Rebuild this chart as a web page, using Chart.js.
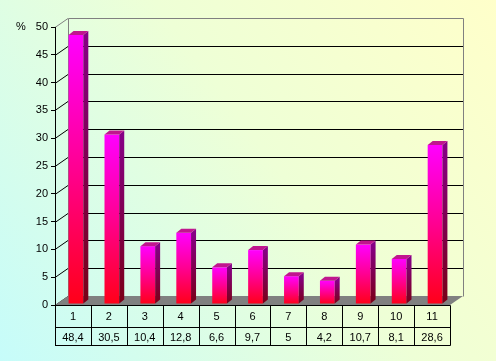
<!DOCTYPE html>
<html>
<head>
<meta charset="utf-8">
<script src="https://cdn.jsdelivr.net/npm/chart.js@4.4.1/dist/chart.umd.min.js"></script>
<style>
    body { margin: 0; overflow: hidden; }
    canvas { display: block; }
</style>
</head>
<body>
<canvas id="bar-3d" width="496" height="361"></canvas>
<script>
var categories = ["1", "2", "3", "4", "5", "6", "7", "8", "9", "10", "11"];
var percents = [48.4, 30.5, 10.4, 12.8, 6.6, 9.7, 5, 4.2, 10.7, 8.1, 28.6];
var yTicks = [0, 5, 10, 15, 20, 25, 30, 35, 40, 45, 50];

(function () {
    "use strict";

    var FONT = "11px Arial, 'Liberation Sans', sans-serif";
    var DX = 13, DY = -9;          // depth of the back wall
    var BX = 5, BY = -4;           // depth of each bar

    // Background, back wall and floor
    var wallPlugin = {
        id: "wall",
        beforeDraw: function (chart) {
            var ctx = chart.ctx, a = chart.chartArea, y = chart.scales.y;
            var W = chart.width, H = chart.height;
            ctx.save();
            var bg = ctx.createLinearGradient(0, H, W, 0);
            bg.addColorStop(0, "#c6fcfa");
            bg.addColorStop(0.55, "#eeffd6");
            bg.addColorStop(1, "#ffffca");
            ctx.fillStyle = bg;
            ctx.fillRect(0, 0, W, H);

            ctx.lineWidth = 1;
            yTicks.forEach(function (v) {
                var py = Math.round(y.getPixelForValue(v)) + 0.5;
                if (v > 0 && v < 50) {
                    ctx.strokeStyle = "#000";
                    ctx.beginPath();
                    ctx.moveTo(a.left + DX, py + DY);
                    ctx.lineTo(a.right + DX, py + DY);
                    ctx.stroke();
                }
                ctx.strokeStyle = v === 50 ? "#808080" : "#000";
                ctx.beginPath();
                ctx.moveTo(a.left, py);
                ctx.lineTo(a.left + DX, py + DY);
                ctx.stroke();
            });

            // wall edges
            var top = Math.round(y.getPixelForValue(50)) + 0.5 + DY;
            var bot = Math.round(y.getPixelForValue(0)) + 0.5 + DY;
            ctx.strokeStyle = "#808080";
            ctx.beginPath();
            ctx.moveTo(a.left + DX + 0.5, bot);
            ctx.lineTo(a.left + DX + 0.5, top);
            ctx.lineTo(a.right + DX + 0.5, top);
            ctx.lineTo(a.right + DX + 0.5, bot);
            ctx.stroke();

            // floor
            var fy = y.getPixelForValue(0);
            ctx.fillStyle = "#808080";
            ctx.beginPath();
            ctx.moveTo(a.left, fy);
            ctx.lineTo(a.right, fy);
            ctx.lineTo(a.right + DX, fy + DY);
            ctx.lineTo(a.left + DX, fy + DY);
            ctx.closePath();
            ctx.fill();

            // percent sign
            ctx.fillStyle = "#000";
            ctx.font = FONT;
            ctx.textAlign = "center";
            ctx.textBaseline = "middle";
            ctx.fillText("%", 21, y.getPixelForValue(50));
            ctx.restore();
        }
    };

    // Side and top faces of the bars
    var bar3dPlugin = {
        id: "bar3d",
        beforeDatasetsDraw: function (chart) {
            chart.ctx.save();
            chart.ctx.translate(3, -1);
        },
        afterDatasetsDraw: function (chart) {
            var ctx = chart.ctx;
            chart.getDatasetMeta(0).data.forEach(function (bar) {
                var l = bar.x - bar.width / 2, r = bar.x + bar.width / 2;
                var side = ctx.createLinearGradient(0, bar.y, 0, bar.base);
                side.addColorStop(0, "#860086");
                side.addColorStop(1, "#7a0016");
                ctx.fillStyle = side;
                ctx.beginPath();
                ctx.moveTo(r, bar.y);
                ctx.lineTo(r + BX, bar.y + BY);
                ctx.lineTo(r + BX, bar.base + BY);
                ctx.lineTo(r, bar.base);
                ctx.closePath();
                ctx.fill();

                ctx.fillStyle = "#c0168e";
                ctx.beginPath();
                ctx.moveTo(l, bar.y);
                ctx.lineTo(l + BX, bar.y + BY);
                ctx.lineTo(r + BX, bar.y + BY);
                ctx.lineTo(r, bar.y);
                ctx.closePath();
                ctx.fill();
            });
            ctx.restore();
        }
    };

    // Data table under the plot
    var tablePlugin = {
        id: "table",
        afterDraw: function (chart) {
            var ctx = chart.ctx, a = chart.chartArea, x = chart.scales.x;
            var colW = (x.right - x.left) / categories.length;
            var y0 = Math.round(a.bottom) + 0.5, y1 = y0 + 22, y2 = y0 + 40;
            ctx.save();
            ctx.strokeStyle = "#000";
            ctx.lineWidth = 1;
            ctx.beginPath();
            [y0, y1, y2].forEach(function (yy) {
                ctx.moveTo(a.left, yy);
                ctx.lineTo(a.right + 0.5, yy);
            });
            for (var i = 0; i <= categories.length; i++) {
                var xx = Math.round(x.left + i * colW) + 0.5;
                ctx.moveTo(xx, y0);
                ctx.lineTo(xx, y2);
            }
            ctx.stroke();

            ctx.fillStyle = "#000";
            ctx.font = FONT;
            ctx.textAlign = "center";
            ctx.textBaseline = "middle";
            categories.forEach(function (c, i) {
                var cx = x.getPixelForValue(i);
                ctx.fillText(c, cx, y0 + 11);
                ctx.fillText(String(percents[i]).replace(".", ","), cx, y1 + 10);
            });
            ctx.restore();
        }
    };

    var ctx1 = document.getElementById("bar-3d").getContext("2d");
    var myChart1 = new Chart(ctx1, {
        type: "bar",
        data: {
            labels: categories,
            datasets: [{
                data: percents,
                barPercentage: 0.41,
                categoryPercentage: 1,
                borderWidth: 0,
                backgroundColor: function (c) {
                    var chart = c.chart;
                    if (!chart.chartArea) return "#ff00ff";
                    var y = chart.scales.y;
                    var g = chart.ctx.createLinearGradient(0, y.getPixelForValue(c.raw), 0, y.getPixelForValue(0));
                    g.addColorStop(0, "#ff00ff");
                    g.addColorStop(0.5, "#ff0090");
                    g.addColorStop(1, "#ff0018");
                    return g;
                }
            }]
        },
        options: {
            responsive: false,
            animation: false,
            devicePixelRatio: 1,
            layout: { padding: { top: 27, right: 46, bottom: 56, left: 0 } },
            plugins: {
                legend: { display: false },
                tooltip: { enabled: false }
            },
            scales: {
                x: { display: false },
                y: {
                    min: 0,
                    max: 50,
                    afterFit: function (s) { s.width = 55; },
                    afterBuildTicks: function (s) {
                        s.ticks = yTicks.map(function (v) { return { value: v }; });
                    },
                    ticks: {
                        padding: 3,
                        color: "#000",
                        font: { family: "Arial, 'Liberation Sans', sans-serif", size: 11 }
                    },
                    grid: {
                        drawOnChartArea: false,
                        tickLength: 4,
                        color: "#000"
                    },
                    border: { display: true, color: "#000" }
                }
            }
        },
        plugins: [wallPlugin, bar3dPlugin, tablePlugin]
    });
})();
</script>
</body>
</html>
